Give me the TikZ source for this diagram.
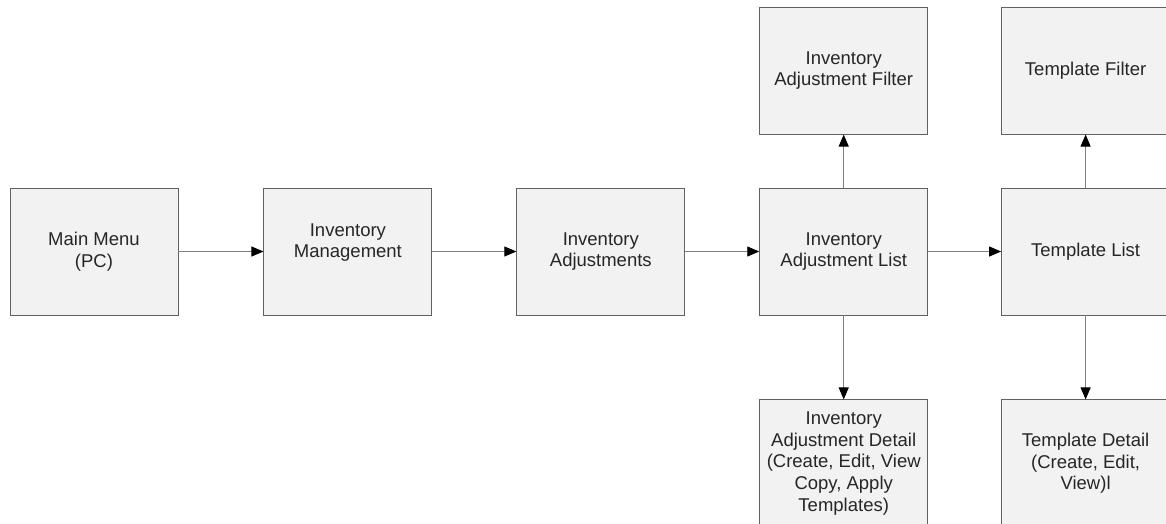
\documentclass[tikz,border=0pt]{standalone}
\usepackage{fontspec}
\setmainfont{Liberation Sans}
\usetikzlibrary{arrows.meta, positioning}

\begin{document}
\begin{tikzpicture}[x=1pt, y=-1pt,
  screen/.style={draw=black!62, fill=black!5, line width=0.9pt,
    minimum width=168pt, minimum height=127pt, inner sep=1pt,
    align=center, text=black!85,
    font=\fontsize{18.5}{21.8}\selectfont},
  arr/.style={-{Triangle[length=12pt, width=10pt, color=black]},
    draw=black!50, line width=0.9pt}
]
\useasboundingbox (0,0) rectangle (1166,523);
% --- main row ---
\node[screen] (menu) at (94,251.5) {Main Menu\\(PC)};
\node[screen, right=85pt of menu] (mgmt) {Inventory\\Management\\\mbox{}};
\node[screen, right=84pt of mgmt] (adj) {Inventory\\Adjustments};
\node[screen, right=74pt of adj] (adjlist) {Inventory\\Adjustment List};
\node[screen, right=73pt of adjlist] (tpllist) {Template List};
% --- filters above ---
\node[screen, above=53pt of adjlist] (adjfilter) {Inventory\\Adjustment Filter};
\node[screen, above=53pt of tpllist] (tplfilter) {Template Filter};
% --- details below ---
\node[screen, below=84pt of adjlist] (adjdetail)
  {Inventory\\Adjustment Detail\\(Create, Edit, View\\Copy, Apply\\Templates)};
\node[screen, below=84pt of tpllist] (tpldetail)
  {Template Detail\\(Create, Edit,\\View)l};
% --- connectors ---
\draw[arr] (menu) -- (mgmt);
\draw[arr] (mgmt) -- (adj);
\draw[arr] (adj) -- (adjlist);
\draw[arr] (adjlist) -- (tpllist);
\draw[arr] (adjlist) -- (adjfilter);
\draw[arr] (tpllist) -- (tplfilter);
\draw[arr] (adjlist) -- (adjdetail);
\draw[arr] (tpllist) -- (tpldetail);
\end{tikzpicture}
\end{document}
